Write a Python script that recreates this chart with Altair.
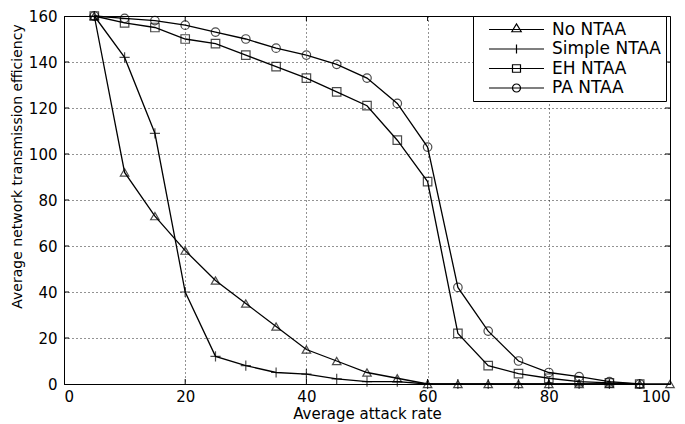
import altair as alt
import pandas as pd

# ---- data ----
attack_rate = [5, 10, 15, 20, 25, 30, 35, 40, 45, 50, 55, 60, 65, 70, 75, 80, 85, 90, 95, 100]
series_names = ["No NTAA", "Simple NTAA", "EH NTAA", "PA NTAA"]
no_ntaa = [160, 92, 73, 58, 45, 35, 25, 15, 10, 5, 2.5, 0, 0, 0, 0, 0, 0, 0, 0, 0]
simple_ntaa = [160, 142, 109, 40, 12, 8, 5, 4.3, 2.2, 1, 1, 0, 0, 0, 0, 0, 0, 0, 0]
eh_ntaa = [160, 157, 155, 150, 148, 143, 138, 133, 127, 121, 106, 88, 22, 8, 4.5, 2.5, 1, 0.5, 0]
pa_ntaa = [160, 159, 158, 156, 153, 150, 146, 143, 139, 133, 122, 103, 42, 23, 10, 5, 3.2, 1, 0]
x_ticks = [0, 20, 40, 60, 80, 100]
y_ticks = [0, 20, 40, 60, 80, 100, 120, 140, 160]

rows = []
for name, vals in zip(series_names, [no_ntaa, simple_ntaa, eh_ntaa, pa_ntaa]):
    for x, y in zip(attack_rate, vals):
        rows.append({"rate": x, "eff": y, "series": name})
df = pd.DataFrame(rows)

inner_x = pd.DataFrame({"rate": x_ticks[1:-1]})
inner_y = pd.DataFrame({"eff": y_ticks[1:-1]})

W, H = 606, 368
TOP = 8
FONT = "DejaVu Sans"
TICK = 5

marker_shapes = ["triangle-up", "M0,-1.2V1.2M-1.2,0H1.2", "square", "circle"]
legend_shapes = [
    "M-5.5,0H5.5M-0.95,0.45L0,-1.1L0.95,0.45Z",
    "M-5.5,0H5.5M0,-0.9V0.9",
    "M-5.5,0H5.5M-0.8,-0.75H0.8V0.75H-0.8Z",
    "M-5.5,0H5.5M0.8,0A0.8,0.8 0 1,1 -0.8,0A0.8,0.8 0 1,1 0.8,0",
]

x_scale = alt.Scale(domain=[0, 100], nice=False, zero=False)
y_scale = alt.Scale(domain=[0, 160], nice=False, zero=False)

x_enc = alt.X(
    "rate:Q",
    scale=x_scale,
    axis=alt.Axis(
        values=x_ticks,
        title="Average attack rate",
        titleFontSize=15,
        titleBaseline="alphabetic",
        titleY=34,
        labelPadding=5,
    ),
)
y_enc = alt.Y(
    "eff:Q",
    scale=y_scale,
    axis=alt.Axis(
        values=y_ticks,
        title="Average network transmission efficiency",
        titleFontSize=14,
        titleX=-40,
        titleY=150,
        labelPadding=7,
    ),
)

base = alt.Chart(df).encode(x=x_enc, y=y_enc)

lines = base.mark_line(color="black", strokeWidth=1.3).encode(detail="series:N")

points = base.mark_point(filled=False, color="black", size=72, strokeWidth=1.2).encode(
    shape=alt.Shape(
        "series:N",
        scale=alt.Scale(domain=series_names, range=marker_shapes),
        legend=None,
    )
)

legend_layer = base.mark_point(filled=False, color="black", opacity=0).encode(
    shape=alt.Shape(
        "series:N",
        scale=alt.Scale(domain=series_names, range=legend_shapes),
        legend=alt.Legend(
            title=None,
            orient="none",
            legendX=409,
            legendY=0,
            strokeColor="black",
            fillColor="white",
            padding=5,
            rowPadding=1.5,
            symbolSize=100,
            symbolStrokeColor="black",
            symbolFillColor="transparent",
            symbolStrokeWidth=1.2,
            symbolOpacity=1,
            symbolOffset=30,
            labelOffset=27,
            labelFont=FONT,
            labelFontSize=17,
            labelColor="black",
            labelLimit=300,
        ),
    )
)

top_ticks = alt.Chart(inner_x).mark_rule(color="black").encode(
    x=alt.X("rate:Q", scale=x_scale), y=alt.value(0), y2=alt.value(TICK)
)
bottom_ticks = alt.Chart(inner_x).mark_rule(color="black").encode(
    x=alt.X("rate:Q", scale=x_scale), y=alt.value(H), y2=alt.value(H - TICK)
)
left_ticks = alt.Chart(inner_y).mark_rule(color="black").encode(
    y=alt.Y("eff:Q", scale=y_scale), x=alt.value(0), x2=alt.value(TICK)
)
right_ticks = alt.Chart(inner_y).mark_rule(color="black").encode(
    y=alt.Y("eff:Q", scale=y_scale), x=alt.value(W), x2=alt.value(W - TICK)
)

chart = (
    alt.layer(top_ticks, bottom_ticks, left_ticks, right_ticks, lines, points, legend_layer)
    .resolve_scale(shape="independent")
    .properties(
        width=W,
        height=H,
        autosize=alt.AutoSizeParams(type="none"),
        padding={"left": 56, "top": TOP, "right": 7, "bottom": 40},
    )
    .configure_view(stroke="black", strokeWidth=1)
    .configure_axis(
        domainColor="black",
        domainWidth=1,
        grid=True,
        gridColor="black",
        gridDash=[1, 3],
        gridWidth=1,
        gridOpacity=0.85,
        tickSize=0,
        labelFont=FONT,
        labelFontSize=15,
        labelColor="black",
        titleFont=FONT,
        titleFontWeight="normal",
        titleColor="black",
    )
)

chart.save("out.html", embed_options={"renderer": "svg", "actions": False})
